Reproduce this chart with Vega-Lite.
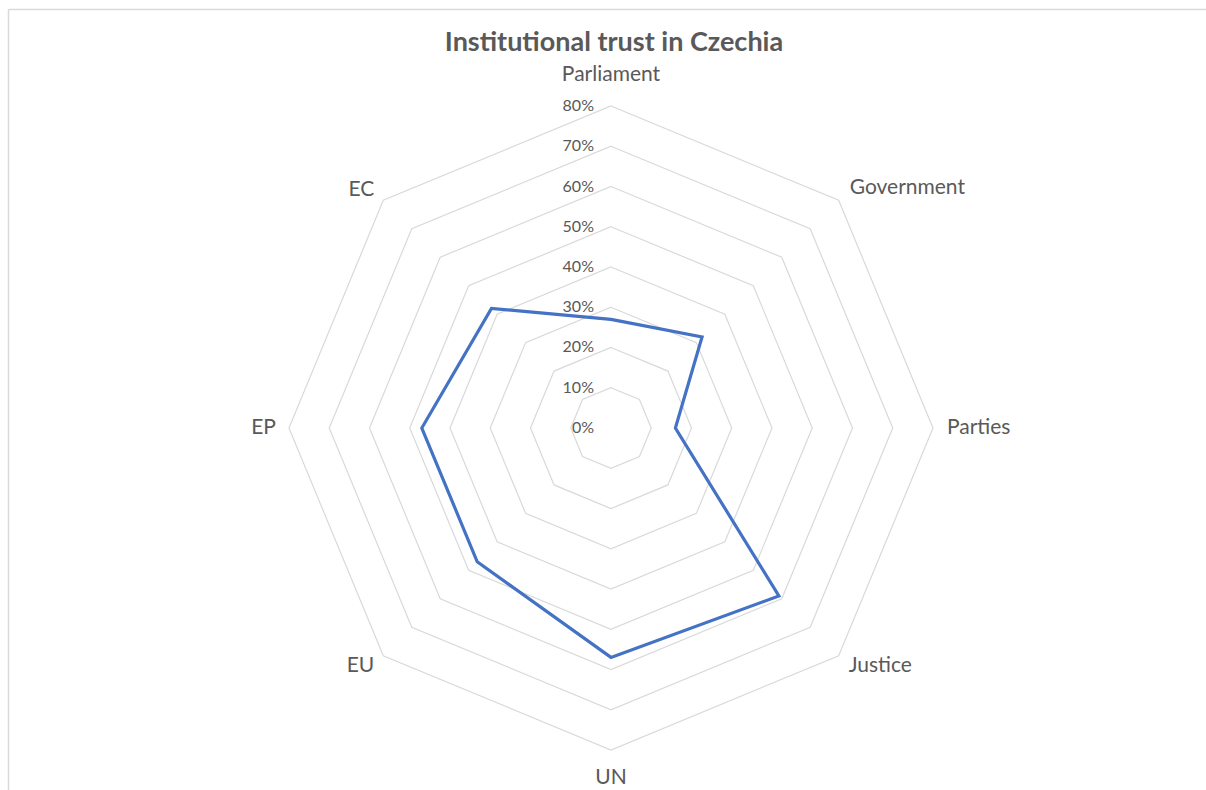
{
  "$schema": "https://vega.github.io/schema/vega-lite/v6.json",
  "autosize": {"type": "none"},
  "width": 1198,
  "height": 781,
  "padding": {"left": 8, "top": 9, "right": 0, "bottom": 0},
  "background": "white",
  "title": {
    "text": "Institutional trust in Czechia",
    "font": "Lato",
    "fontSize": 27,
    "fontWeight": "bold",
    "color": "#595959",
    "anchor": "middle",
    "frame": "group",
    "offset": -69,
    "baseline": "alphabetic",
    "dx": 7
  },
  "config": {
    "view": {"stroke": null},
    "text": {"font": "Lato", "color": "#595959"}
  },
  "datasets": {
    "trust": [
      {"institution": "Parliament", "trust": 0.27},
      {"institution": "Government", "trust": 0.32},
      {"institution": "Parties", "trust": 0.16},
      {"institution": "Justice", "trust": 0.59},
      {"institution": "UN", "trust": 0.57},
      {"institution": "EU", "trust": 0.47},
      {"institution": "EP", "trust": 0.47},
      {"institution": "EC", "trust": 0.42}
    ],
    "levels": [
      {"level": 0}, {"level": 0.1}, {"level": 0.2}, {"level": 0.3}, {"level": 0.4},
      {"level": 0.5}, {"level": 0.6}, {"level": 0.7}, {"level": 0.8}
    ]
  },
  "encoding": {
    "x": {
      "field": "px", "type": "quantitative",
      "scale": {"domain": [-1.4981, 1.4783], "nice": false, "zero": false},
      "axis": {"orient": "top", "labels": false, "ticks": false, "grid": false, "title": null, "domainColor": "#d9d9d9", "domainWidth": 1.5}
    },
    "y": {
      "field": "py", "type": "quantitative",
      "scale": {"domain": [-0.8994, 1.041], "nice": false, "zero": false},
      "axis": {"orient": "left", "labels": false, "ticks": false, "grid": false, "title": null, "domainColor": "#d9d9d9", "domainWidth": 1.5}
    }
  },
  "layer": [
    {
      "data": {"name": "trust"},
      "transform": [
        {"window": [{"op": "row_number", "as": "rn"}]},
        {"calculate": "[0.1,0.2,0.3,0.4,0.5,0.6,0.7,0.8]", "as": "ring"},
        {"flatten": ["ring"]},
        {"calculate": "(datum.rn-1)*PI/4", "as": "ang"},
        {"calculate": "datum.ring*sin(datum.ang)", "as": "px"},
        {"calculate": "datum.ring*cos(datum.ang)", "as": "py"}
      ],
      "mark": {"type": "line", "interpolate": "linear-closed", "stroke": "#d9d9d9", "strokeWidth": 1.2},
      "encoding": {"detail": {"field": "ring", "type": "nominal"}, "order": {"field": "rn", "type": "quantitative"}}
    },
    {
      "data": {"name": "levels"},
      "transform": [
        {"calculate": "0", "as": "px"},
        {"calculate": "datum.level", "as": "py"}
      ],
      "mark": {"type": "text", "align": "right", "baseline": "middle", "dx": -17, "fontSize": 16},
      "encoding": {"text": {"field": "level", "type": "quantitative", "format": ".0%"}}
    },
    {
      "data": {"name": "trust"},
      "transform": [
        {"window": [{"op": "row_number", "as": "rn"}]},
        {"calculate": "(datum.rn-1)*PI/4", "as": "ang"},
        {"calculate": "datum.trust*sin(datum.ang)", "as": "px"},
        {"calculate": "datum.trust*cos(datum.ang)", "as": "py"}
      ],
      "mark": {"type": "line", "interpolate": "linear-closed", "stroke": "#4472C4", "strokeWidth": 3.2},
      "encoding": {"order": {"field": "rn", "type": "quantitative"}}
    },
    {
      "data": {"name": "trust"},
      "transform": [
        {"window": [{"op": "row_number", "as": "rn"}]},
        {"filter": "datum.rn == 1"},
        {"calculate": "0", "as": "px"},
        {"calculate": "0.8", "as": "py"}
      ],
      "mark": {"type": "text", "align": "center", "baseline": "middle", "dy": -31, "fontSize": 21},
      "encoding": {"text": {"field": "institution"}}
    },
    {
      "data": {"name": "trust"},
      "transform": [
        {"window": [{"op": "row_number", "as": "rn"}]},
        {"filter": "datum.rn == 2"},
        {"calculate": "0.8*sin(PI/4)", "as": "px"},
        {"calculate": "0.8*cos(PI/4)", "as": "py"}
      ],
      "mark": {"type": "text", "align": "left", "baseline": "middle", "dx": 11, "dy": -12, "fontSize": 21},
      "encoding": {"text": {"field": "institution"}}
    },
    {
      "data": {"name": "trust"},
      "transform": [
        {"window": [{"op": "row_number", "as": "rn"}]},
        {"filter": "datum.rn == 3"},
        {"calculate": "0.8", "as": "px"},
        {"calculate": "0", "as": "py"}
      ],
      "mark": {"type": "text", "align": "left", "baseline": "middle", "dx": 14, "fontSize": 21},
      "encoding": {"text": {"field": "institution"}}
    },
    {
      "data": {"name": "trust"},
      "transform": [
        {"window": [{"op": "row_number", "as": "rn"}]},
        {"filter": "datum.rn == 4"},
        {"calculate": "0.8*sin(PI/4)", "as": "px"},
        {"calculate": "-0.8*cos(PI/4)", "as": "py"}
      ],
      "mark": {"type": "text", "align": "left", "baseline": "middle", "dx": 10, "dy": 10, "fontSize": 21},
      "encoding": {"text": {"field": "institution"}}
    },
    {
      "data": {"name": "trust"},
      "transform": [
        {"window": [{"op": "row_number", "as": "rn"}]},
        {"filter": "datum.rn == 5"},
        {"calculate": "0", "as": "px"},
        {"calculate": "-0.8", "as": "py"}
      ],
      "mark": {"type": "text", "align": "center", "baseline": "middle", "dy": 28, "fontSize": 21},
      "encoding": {"text": {"field": "institution"}}
    },
    {
      "data": {"name": "trust"},
      "transform": [
        {"window": [{"op": "row_number", "as": "rn"}]},
        {"filter": "datum.rn == 6"},
        {"calculate": "-0.8*sin(PI/4)", "as": "px"},
        {"calculate": "-0.8*cos(PI/4)", "as": "py"}
      ],
      "mark": {"type": "text", "align": "right", "baseline": "middle", "dx": -9, "dy": 10, "fontSize": 21},
      "encoding": {"text": {"field": "institution"}}
    },
    {
      "data": {"name": "trust"},
      "transform": [
        {"window": [{"op": "row_number", "as": "rn"}]},
        {"filter": "datum.rn == 7"},
        {"calculate": "-0.8", "as": "px"},
        {"calculate": "0", "as": "py"}
      ],
      "mark": {"type": "text", "align": "right", "baseline": "middle", "dx": -13, "fontSize": 21},
      "encoding": {"text": {"field": "institution"}}
    },
    {
      "data": {"name": "trust"},
      "transform": [
        {"window": [{"op": "row_number", "as": "rn"}]},
        {"filter": "datum.rn == 8"},
        {"calculate": "-0.8*sin(PI/4)", "as": "px"},
        {"calculate": "0.8*cos(PI/4)", "as": "py"}
      ],
      "mark": {"type": "text", "align": "right", "baseline": "middle", "dx": -9, "dy": -10, "fontSize": 21},
      "encoding": {"text": {"field": "institution"}}
    }
  ]
}
